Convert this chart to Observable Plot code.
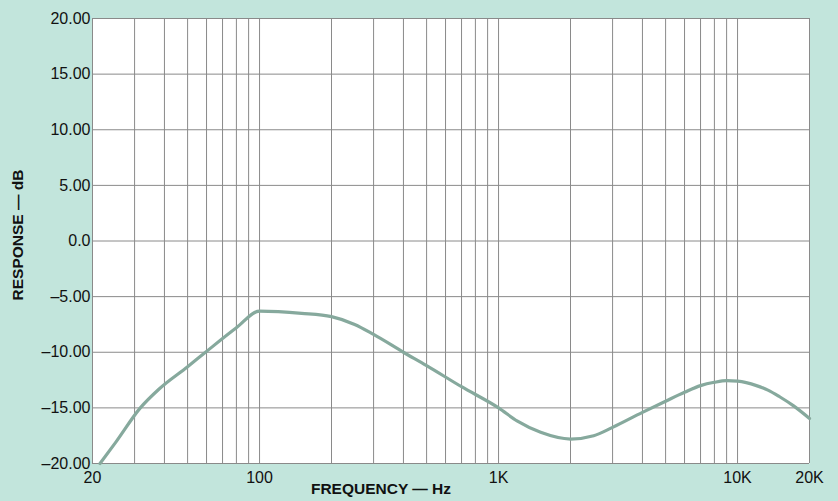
<!DOCTYPE html>
<html>
<head>
<meta charset="utf-8">
<script src="https://cdn.jsdelivr.net/npm/d3@7"></script>
<script src="https://cdn.jsdelivr.net/npm/@observablehq/plot@0.6"></script>
<style>
  html, body { margin: 0; padding: 0; background: #c2e5dc; }
  #chart { position: relative; width: 838px; height: 501px; }
  #ylab { position: absolute; left: 18px; top: 235px; transform: translate(-50%, -50%) rotate(-90deg);
          font: bold 15.5px "Liberation Sans", Arial, sans-serif; color: #111; white-space: nowrap; }
</style>
</head>
<body>
<div id="chart"><div id="ylab">RESPONSE — dB</div></div>
<script>
// Frequency response curve (Hz, dB)
const freqs = [21.5, 25, 31.7, 38, 50, 59.4, 80, 100, 150, 200, 250, 300, 400, 500, 700, 1000, 1200, 1500, 2000, 2500, 3000, 4000, 5000, 6000, 7000, 8000, 9000, 10000, 12000, 13400, 15000, 17100, 20000];
const dbs   = [-20.0, -18.1, -15.0, -13.3, -11.3, -10.0, -7.8, -6.3, -6.5, -6.8, -7.5, -8.4, -10.0, -11.2, -13.1, -15.0, -16.2, -17.2, -17.8, -17.5, -16.75, -15.4, -14.4, -13.6, -13.0, -12.7, -12.55, -12.6, -13.0, -13.4, -14.0, -14.8, -15.95];

// Axis ticks and labels
const xTicks = [20, 100, 1000, 10000, 20000];
const xTickLabels = ["20", "100", "1K", "10K", "20K"];
const yTicks = [20, 15, 10, 5, 0, -5, -10, -15, -20];
const yTickLabels = ["20.00", "15.00", "10.00", "5.00", "0.0", "–5.00", "–10.00", "–15.00", "–20.00"];
const gridFreqs = [20, 30, 40, 50, 60, 70, 80, 90, 100, 200, 300, 400, 500, 600, 700, 800, 900, 1000, 2000, 3000, 4000, 5000, 6000, 7000, 8000, 9000, 10000, 20000];

const data = freqs.map((f, i) => ({f, db: dbs[i]}));

const chart = Plot.plot({
  width: 838,
  height: 501,
  marginLeft: 92,
  marginRight: 29,
  marginTop: 18,
  marginBottom: 38,
  style: {background: "transparent", fontFamily: "'Liberation Sans', Arial, sans-serif", fontSize: "16px", color: "#111"},
  x: {type: "log", domain: [20, 20000]},
  y: {domain: [-20, 20]},
  marks: [
    Plot.frame({fill: "white", stroke: "none"}),
    Plot.ruleX(gridFreqs, {stroke: "#8a8a8a", strokeWidth: 1}),
    Plot.ruleY(yTicks, {stroke: "#8a8a8a", strokeWidth: 1}),
    Plot.axisY({ticks: yTicks, tickSize: 0, tickPadding: 2, label: null,
      tickFormat: d => yTickLabels[yTicks.indexOf(d)], fontSize: 16}),
    Plot.axisX({ticks: xTicks, tickSize: 0, tickPadding: 8, label: null,
      tickFormat: d => xTickLabels[xTicks.indexOf(d)], fontSize: 16}),
    Plot.line(data, {x: "f", y: "db", curve: "monotone-x", stroke: "#86a99d", strokeWidth: 3.2, strokeLinejoin: "round", strokeLinecap: "round"}),
    Plot.text(["FREQUENCY — Hz"], {frameAnchor: "bottom", dy: 30, fontWeight: "bold", fontSize: 15.5, fill: "#111", dx: -70})
  ]
});
document.getElementById("chart").prepend(chart);
</script>
</body>
</html>
